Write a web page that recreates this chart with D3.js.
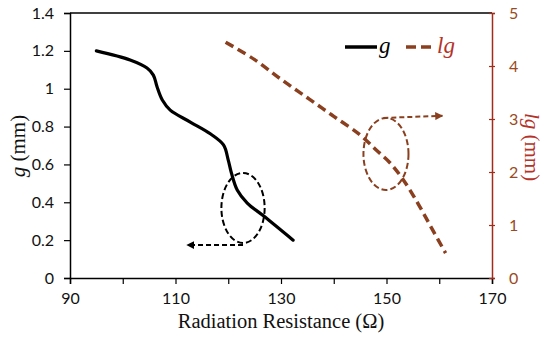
<!DOCTYPE html>
<html><head><meta charset="utf-8">
<script src="https://cdn.jsdelivr.net/npm/d3@7/dist/d3.min.js"></script>
<style>body{margin:0;background:#fff}</style>
</head><body><svg id="c" width="550" height="337"></svg>
<script>
const xTicks = [90, 110, 130, 150, 170];
const xMinorTicks = [90, 100, 110, 120, 130, 140, 150, 160, 170];
const gTicks = [0, 0.2, 0.4, 0.6, 0.8, 1, 1.2, 1.4];
const gTickLabels = ["0", "0.2", "0.4", "0.6", "0.8", "1", "1.2", "1.4"];
const lgTicks = [0, 1, 2, 3, 4, 5];

const gX = [95, 101.4, 104.6, 105.8, 106.5, 107.5, 109, 112.8, 116.6, 119.1, 120.0, 120.6, 121.7, 123.6, 126.6, 132.3];
const gY = [1.2, 1.152, 1.109, 1.072, 1.01, 0.94, 0.887, 0.824, 0.762, 0.703, 0.623, 0.555, 0.465, 0.396, 0.33, 0.20];

const lgX = [119.5, 125, 130, 135, 140, 145, 148, 150.7, 153.2, 156, 158.5, 161.2];
const lgY = [4.45, 4.12, 3.75, 3.4, 3.05, 2.7, 2.42, 2.17, 1.85, 1.4, 0.95, 0.47];

// annotations (data units)
const gEllipse = {cx: 122.8, cy: 0.37, rx: 4.1, ry: 0.185};
const gArrow = {x1: 122.8, x2: 112.2, y: 0.174};
const lgEllipse = {cx: 149.9, cy: 2.34, rx: 4.27, ry: 0.68};
const lgArrow = {x1: 149.4, x2: 160.6, y1: 3.02, y2: 3.06};

const SERIF = '"Liberation Serif", serif';
const SANS = 'Lato, sans-serif';

const svg = d3.select("#c");
const L = 70, R = 492, T = 13, B = 278;
const x = d3.scaleLinear().domain([90, 170]).range([L, R]);
const y = d3.scaleLinear().domain([0, 1.4]).range([B, T]);
const y2 = d3.scaleLinear().domain([0, 5]).range([B, T]);

const red = "#a02c1c";
const brown = "#8a3f1e";

const defs = svg.append("defs");
function marker(id, color) {
  defs.append("marker").attr("id", id).attr("viewBox", "0 0 10 10")
    .attr("refX", 9).attr("refY", 5).attr("markerWidth", 4).attr("markerHeight", 4)
    .attr("orient", "auto").attr("markerUnits", "strokeWidth")
    .append("path").attr("d", "M0,0 L10,5 L0,10 Z").attr("fill", color);
}
marker("ab", "#000");
marker("ar", brown);

svg.append("line").attr("x1", L).attr("x2", R).attr("y1", T).attr("y2", T)
  .attr("stroke", "#000").attr("stroke-width", 1.5);

const xAxis = svg.append("g").attr("transform", `translate(0,${B})`)
  .call(d3.axisBottom(x).tickValues(xMinorTicks).tickSize(6).tickFormat(d => xTicks.includes(d) ? d : ""));
xAxis.select(".domain").attr("stroke-width", 1.5);
xAxis.selectAll(".tick line").attr("stroke-width", 1.2);
xAxis.selectAll("text").style("font-family", SANS).style("font-size", "16px").attr("fill", "#111").attr("dy", "1.05em");

const yAxis = svg.append("g").attr("transform", `translate(${L},0)`)
  .call(d3.axisLeft(y).tickValues(gTicks).tickSize(6).tickFormat((d, i) => gTickLabels[i]));
yAxis.select(".domain").attr("stroke-width", 1.5);
yAxis.selectAll(".tick line").attr("stroke-width", 1.2);
yAxis.selectAll("text").style("font-family", SANS).style("font-size", "16px").attr("fill", "#111").attr("x", -16);

const y2Axis = svg.append("g").attr("transform", `translate(${R},0)`)
  .call(d3.axisRight(y2).tickValues(lgTicks).tickSize(3).tickFormat(d3.format("d")));
y2Axis.select(".domain").attr("stroke", red).attr("stroke-width", 1.5);
y2Axis.selectAll(".tick line").attr("stroke", red).attr("stroke-width", 1.2).attr("x1", -3);
y2Axis.selectAll("text").style("font-family", SANS).style("font-size", "16px").attr("fill", "#9a4a22").attr("x", 17);

const lineG = d3.line().x(d => x(d[0])).y(d => y(d[1])).curve(d3.curveCatmullRom.alpha(0.5));
svg.append("path").datum(gX.map((v, i) => [v, gY[i]])).attr("d", lineG)
  .attr("fill", "none").attr("stroke", "#000").attr("stroke-width", 3.2).attr("stroke-linecap", "round");

const lineLg = d3.line().x(d => x(d[0])).y(d => y2(d[1])).curve(d3.curveCatmullRom.alpha(0.5));
svg.append("path").datum(lgX.map((v, i) => [v, lgY[i]])).attr("d", lineLg)
  .attr("fill", "none").attr("stroke", brown).attr("stroke-width", 3.5).attr("stroke-dasharray", "9,5");

svg.append("ellipse").attr("cx", x(gEllipse.cx)).attr("cy", y(gEllipse.cy))
  .attr("rx", x(gEllipse.cx + gEllipse.rx) - x(gEllipse.cx)).attr("ry", y(0) - y(gEllipse.ry))
  .attr("fill", "none").attr("stroke", "#000").attr("stroke-width", 2).attr("stroke-dasharray", "6,3");
svg.append("line").attr("x1", x(gArrow.x1)).attr("x2", x(gArrow.x2)).attr("y1", y(gArrow.y)).attr("y2", y(gArrow.y))
  .attr("stroke", "#000").attr("stroke-width", 2).attr("stroke-dasharray", "5,3").attr("marker-end", "url(#ab)");

svg.append("ellipse").attr("cx", x(lgEllipse.cx)).attr("cy", y2(lgEllipse.cy))
  .attr("rx", x(lgEllipse.cx + lgEllipse.rx) - x(lgEllipse.cx)).attr("ry", y2(0) - y2(lgEllipse.ry))
  .attr("fill", "none").attr("stroke", brown).attr("stroke-width", 2).attr("stroke-dasharray", "6,3");
svg.append("line").attr("x1", x(lgArrow.x1)).attr("x2", x(lgArrow.x2)).attr("y1", y2(lgArrow.y1)).attr("y2", y2(lgArrow.y2))
  .attr("stroke", brown).attr("stroke-width", 2).attr("stroke-dasharray", "5,3").attr("marker-end", "url(#ar)");

// legend
svg.append("line").attr("x1", 345).attr("x2", 377).attr("y1", 47).attr("y2", 47).attr("stroke", "#000").attr("stroke-width", 3.5);
svg.append("text").attr("x", 379).attr("y", 53).text("g").attr("fill", "#000")
  .style("font-family", SERIF).style("font-style", "italic").style("font-size", "23px");
svg.append("line").attr("x1", 406).attr("x2", 433).attr("y1", 47).attr("y2", 47).attr("stroke", brown).attr("stroke-width", 3.5).attr("stroke-dasharray", "10,5");
svg.append("text").attr("x", 437).attr("y", 53).text("lg").attr("fill", "#b5322a")
  .style("font-family", SERIF).style("font-style", "italic").style("font-size", "23px");

svg.append("text").attr("x", 281).attr("y", 328).attr("text-anchor", "middle")
  .style("font-family", SERIF).style("font-size", "20.5px").attr("fill", "#111").text("Radiation Resistance (Ω)");

const yt = svg.append("text").attr("transform", "translate(25,146) rotate(-90)").attr("text-anchor", "middle")
  .style("font-family", SERIF).style("font-size", "21px").attr("fill", "#111");
yt.append("tspan").style("font-style", "italic").text("g");
yt.append("tspan").text(" (mm)");

const y2t = svg.append("text").attr("transform", "translate(525,147) rotate(90)").attr("text-anchor", "middle")
  .style("font-family", SERIF).style("font-size", "21px").attr("fill", "#b5322a");
y2t.append("tspan").style("font-style", "italic").text("lg");
y2t.append("tspan").text(" (mm)");
</script></body></html>
